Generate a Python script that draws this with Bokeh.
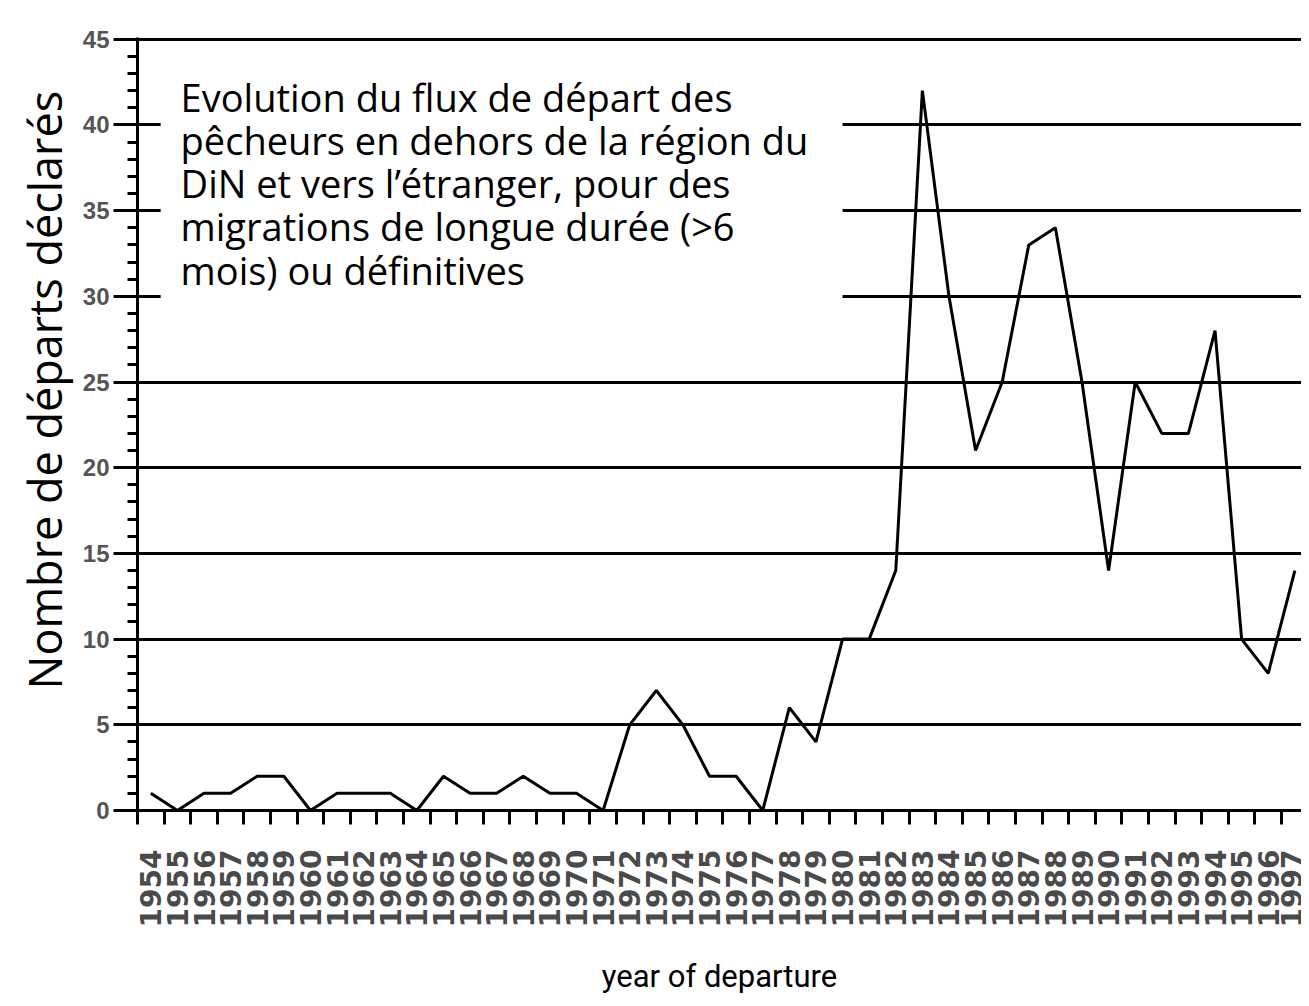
import math
from bokeh.plotting import figure
from bokeh.models import Range1d, FixedTicker, BoxAnnotation, Label, Title
from bokeh.embed import file_html
from bokeh.resources import INLINE

# ---- data ----
years = list(range(1954, 1998))
departures = [1, 0, 1, 1, 2, 2, 0, 1, 1, 1,
              0, 2, 1, 1, 2, 1, 1, 0, 5, 7,
              5, 2, 2, 0, 6, 4, 10, 10, 14, 42,
              30, 21, 25, 33, 34, 25, 14, 25, 22, 22,
              28, 10, 8, 14]
y_major = [0, 5, 10, 15, 20, 25, 30, 35, 40, 45]
y_minor = list(range(0, 46))

title_text = ("Evolution du flux de départ des\n"
              "pêcheurs en dehors de la région du\n"
              "DiN et vers l’étranger, pour des\n"
              "migrations de longue durée (>6\n"
              "mois) ou définitives")
y_title = "Nombre de départs déclarés"
x_title = "year of departure"

p = figure(width=1301, height=998, output_backend="svg", toolbar_location=None,
           x_range=Range1d(1953.5, 1997.25), y_range=Range1d(0, 45.1),
           min_border_left=137, min_border_right=0, min_border_top=37,
           min_border_bottom=187)
p.outline_line_color = None
p.background_fill_color = "white"
p.border_fill_color = "white"

# grid
p.xgrid.grid_line_color = None
p.ygrid.ticker = FixedTicker(ticks=y_major)
p.ygrid.grid_line_color = "black"
p.ygrid.grid_line_width = 3

# y axis
ya = p.yaxis[0]
ya.ticker = FixedTicker(ticks=y_major, minor_ticks=y_minor)
ya.axis_line_width = 3
ya.major_tick_line_width = 3
ya.minor_tick_line_width = 3
ya.major_tick_out = 24
ya.major_tick_in = 0
ya.minor_tick_out = 10
ya.minor_tick_in = 0
ya.major_label_standoff = 4
ya.major_label_text_font = "Liberation Sans"
ya.major_label_text_font_style = "bold"
ya.major_label_text_font_size = "24px"
ya.major_label_text_color = "#555555"

# x axis
xa = p.xaxis[0]
xa.ticker = FixedTicker(ticks=years, minor_ticks=[y - 0.5 for y in years] + [years[-1] + 0.5])
xa.axis_line_width = 3
xa.major_tick_out = 0
xa.major_tick_in = 0
xa.minor_tick_out = 14
xa.minor_tick_in = 0
xa.minor_tick_line_width = 3
xa.major_label_orientation = math.pi / 2
xa.major_label_standoff = 25
xa.major_label_text_font = "DejaVu Sans"
xa.major_label_text_font_style = "bold"
xa.major_label_text_font_size = "28px"
xa.major_label_text_color = "#4a4a4a"
xa.axis_label = x_title
xa.axis_label_text_font = "Roboto"
xa.axis_label_text_font_size = "31px"
xa.axis_label_text_font_style = "normal"
xa.axis_label_text_color = "black"
xa.axis_label_standoff = 28

# y title on the left, anchored at its start and shifted upward
p.add_layout(Title(text=y_title, align="left", offset=121, standoff=10,
                   text_font="Open Sans", text_font_size="45px",
                   text_font_style="normal", text_color="black"), "left")

# data line
p.line(years, departures, line_color="black", line_width=3)

# white box behind the caption
p.add_layout(BoxAnnotation(left=1954.37, right=1980.0, bottom=28.5, top=44.4,
                           fill_color="white", fill_alpha=1.0, line_color=None))

p.add_layout(Label(x=1955.12, y=43.15, text=title_text, text_font="Open Sans",
                   text_font_size="38px", text_color="black", text_baseline="top",
                   text_align="left", text_line_height=0.83))

open("out.html", "w").write(file_html(p, INLINE))
